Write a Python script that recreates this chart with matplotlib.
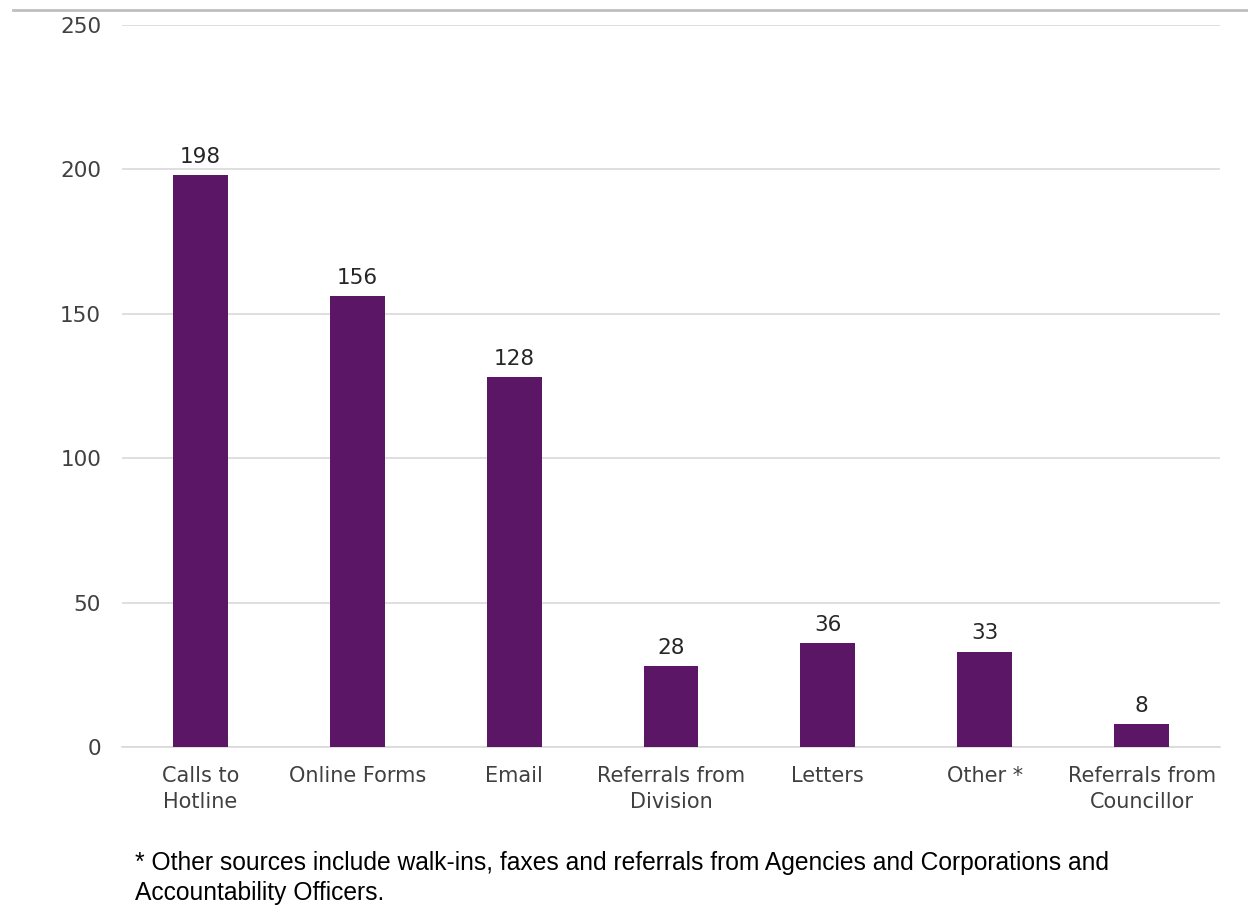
import matplotlib
matplotlib.use("Agg")
import matplotlib.pyplot as plt
from matplotlib.lines import Line2D

categories = ["Calls to\nHotline", "Online Forms", "Email", "Referrals from\nDivision",
              "Letters", "Other *", "Referrals from\nCouncillor"]
values = [198, 156, 128, 28, 36, 33, 8]
yticks = [0, 50, 100, 150, 200, 250]
footnote = ("* Other sources include walk-ins, faxes and referrals from Agencies and Corporations and\n"
            "Accountability Officers.")

plt.rcParams['font.family'] = ['DejaVu Sans']

W, H = 1248, 905
fig = plt.figure(figsize=(W / 100, H / 100), dpi=100)
ax = fig.add_axes([122 / W, 1 - 747 / H, (1220 - 122) / W, (747 - 25) / H])

bar_color = "#5C1666"
x = list(range(len(categories)))
bars = ax.bar(x, values, width=0.35, color=bar_color, zorder=3)
for xi, v in zip(x, values):
    ax.annotate(str(v), (xi, v), xytext=(0, 6), textcoords="offset points",
                ha="center", va="bottom", fontsize=15.5, color="#262626")

ax.set_xlim(-0.5, len(categories) - 0.5)
ax.set_ylim(0, 250)
ax.set_yticks(yticks)
ax.set_xticks(x)
ax.set_xticklabels(categories, fontsize=15, color="#404040", linespacing=1.35)
ax.tick_params(axis="y", labelsize=15.5, labelcolor="#404040", length=0, pad=15)
ax.tick_params(axis="x", length=0, pad=14)
ax.grid(axis="y", color="#D9D9D9", linewidth=1.2, zorder=0)
for s in ["top", "right", "left"]:
    ax.spines[s].set_visible(False)
ax.spines["bottom"].set_color("#D9D9D9")
ax.spines["bottom"].set_linewidth(1.2)

fig.add_artist(Line2D([13 / W, 1.0], [1 - 10 / H, 1 - 10 / H], transform=fig.transFigure,
                      color="#BFBFBF", linewidth=2))

fig.text(135 / W, 1 - 851 / H, footnote, ha="left", va="top", fontsize=17.7,
         family=['Liberation Sans', 'DejaVu Sans'],
         color="black", linespacing=1.3)

fig.savefig("out.png", dpi=100)
